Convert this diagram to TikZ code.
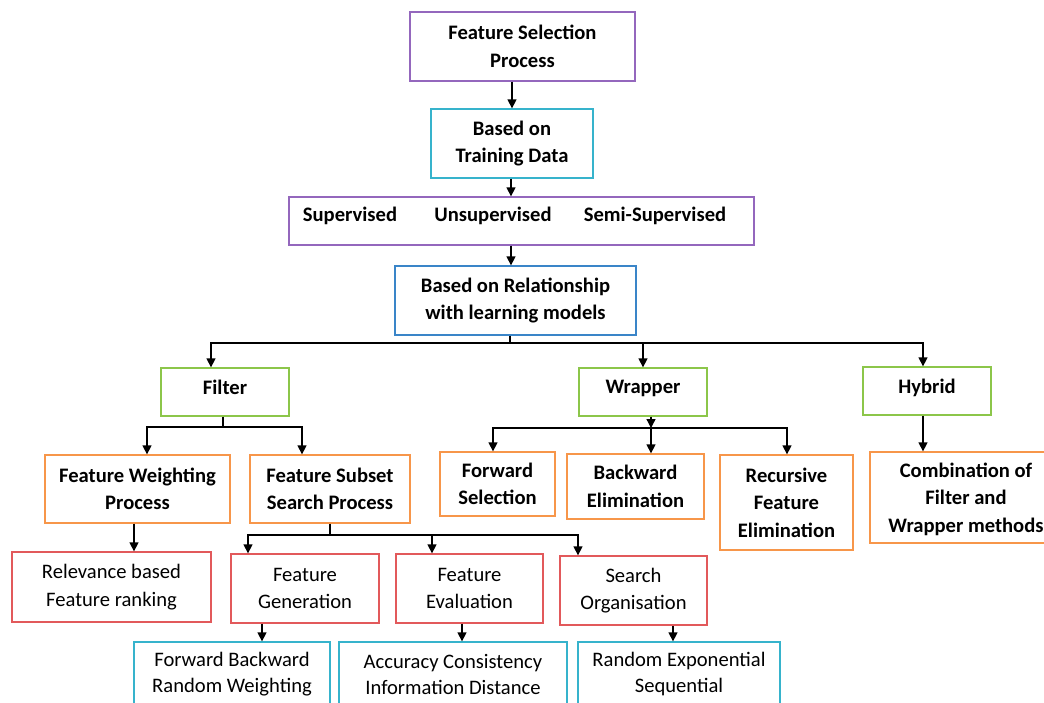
\documentclass[tikz,border=0pt]{standalone}
\usepackage{fontspec}
\setmainfont{Carlito}
\usetikzlibrary{arrows.meta}
\definecolor{cpurple}{HTML}{9467BD}
\definecolor{ccyan}{HTML}{36B3CC}
\definecolor{cblue}{HTML}{3A85C8}
\definecolor{cgreen}{HTML}{8CC64A}
\definecolor{corange}{HTML}{F7964A}
\definecolor{cred}{HTML}{E2595B}
\tikzset{
  box/.style={draw=#1, line width=1.3pt, inner sep=0pt, align=center,
    font=\fontsize{20.6}{27.5}\selectfont\bfseries},
  lbox/.style={draw=#1, line width=1.3pt, inner sep=0pt, align=center,
    font=\fontsize{20.6}{26}\selectfont},
  rbox/.style={draw=#1, line width=1.3pt, inner sep=0pt, align=center,
    font=\fontsize{20.6}{27.5}\selectfont},
  lbl/.style={inner sep=0pt, font=\fontsize{20.6}{27.5}\selectfont\bfseries},
  arr/.style={line width=1.3pt, -{Triangle[length=9pt,width=9pt]}},
  ln/.style={line width=1.3pt},
}
\begin{document}
\begin{tikzpicture}[x=1pt,y=-1pt]
\useasboundingbox (0,0) rectangle (1044,702);
\clip (0,0) rectangle (1044,702);
% top chain
\node[box=cpurple, minimum width=225, minimum height=69] (fsp) at (522.5,46.5) {Feature Selection\\Process};
\node[box=ccyan, minimum width=162, minimum height=69] (btd) at (512,143.5) {Based on\\Training Data};
\node[box=cpurple, minimum width=465, minimum height=48] (sup) at (521.5,221) {};
\node[lbl] (t1) at (350,216) {Supervised};
\node[lbl] (t2) at (493,216) {Unsupervised};
\node[lbl] (t3) at (655,216) {Semi-Supervised};
\node[box=cblue, minimum width=241, minimum height=69] (rel) at (515.5,300.5) {Based on Relationship\\with learning models};
% second level
\node[box=cgreen, minimum width=128, minimum height=48, text depth=10pt] (filter) at (225,392) {Filter};
\node[box=cgreen, minimum width=128, minimum height=48, text depth=10pt] (wrap) at (643,392) {Wrapper};
\node[box=cgreen, minimum width=128, minimum height=48, text depth=10pt] (hyb) at (927,391) {Hybrid};
% third level
\node[box=corange, minimum width=185, minimum height=68] (fwp) at (137.5,489) {Feature Weighting\\Process};
\node[box=corange, minimum width=160, minimum height=68] (ssp) at (330,489) {Feature Subset\\Search Process};
\node[box=corange, minimum width=115, minimum height=64] (fs) at (497.5,484) {Forward\\Selection};
\node[box=corange, minimum width=137, minimum height=65] (be) at (635.5,486.5) {Backward\\Elimination};
\node[box=corange, minimum width=133, minimum height=95] (rfe) at (786.5,502.5) {Recursive\\Feature\\Elimination};
\node[box=corange, minimum width=192, minimum height=91, text depth=-2pt] (cfw) at (966,497.5) {Combination of\\Filter and\\Wrapper methods};
% fourth level
\node[rbox=cred, minimum width=199, minimum height=70] (rfr) at (111.5,587) {Relevance based\\Feature ranking};
\node[rbox=cred, minimum width=148, minimum height=69] (fg) at (305,588.5) {Feature\\Generation};
\node[rbox=cred, minimum width=147, minimum height=69] (fe) at (469.5,588.5) {Feature\\Evaluation};
\node[rbox=cred, minimum width=147, minimum height=69] (so) at (633.5,590.5) {Search\\Organisation};
% fifth level
\node[lbox=ccyan, minimum width=196, minimum height=64] (fbrw) at (232,674) {Forward Backward\\Random Weighting};
\node[lbox=ccyan, minimum width=228, minimum height=64] (acid) at (453,674) {Accuracy Consistency\\Information Distance};
\node[lbox=ccyan, minimum width=202, minimum height=64] (res) at (679,674) {Random Exponential\\Sequential};
% connectors
\draw[arr] (btd.north |- fsp.south) -- (btd.north);
\draw[arr] ([xshift=-1]btd.south) -- ([xshift=-10.5]sup.north);
\draw[arr] ([xshift=-10.5]sup.south) -- ([xshift=-4.5]rel.north);
\coordinate (j1) at (510,343);
\draw[ln] ([xshift=-5.5]rel.south) -- (j1);
\draw[arr] (j1) -| ([xshift=-14]filter.north);
\draw[arr] (j1) -| (wrap.north);
\draw[arr] (j1) -| ([xshift=-4]hyb.north);
\coordinate (j2) at (223,427);
\draw[ln] ([xshift=-2]filter.south) -- (j2);
\draw[arr] (j2) -| ([xshift=9.5]fwp.north);
\draw[arr] (j2) -| ([xshift=-28]ssp.north);
\coordinate (j3) at (651,428);
\draw[arr] ([xshift=8]wrap.south) -- (j3);
\draw[arr] (j3) -| ([xshift=-4.5]fs.north);
\draw[arr] (j3) -- ([xshift=15.5]be.north);
\draw[arr] (j3) -| ([xshift=0.5]rfe.north);
\draw[arr] ([xshift=-4]hyb.south) -- ([xshift=-43]cfw.north);
\draw[arr] ([xshift=-3.5]fwp.south) -- ([xshift=22.5]rfr.north);
\coordinate (j4) at (330,535);
\draw[ln] (ssp.south) -- (j4);
\draw[arr] (j4) -| ([xshift=-57]fg.north);
\draw[arr] (j4) -| ([xshift=-37.5]fe.north);
\draw[arr] (j4) -| ([xshift=-55.5]so.north);
\draw[arr] ([xshift=-43]fg.south) -- ([xshift=30]fbrw.north);
\draw[arr] ([xshift=-7.5]fe.south) -- ([xshift=9]acid.north);
\draw[arr] ([xshift=39.5]so.south) -- ([xshift=-6]res.north);
\end{tikzpicture}
\end{document}
